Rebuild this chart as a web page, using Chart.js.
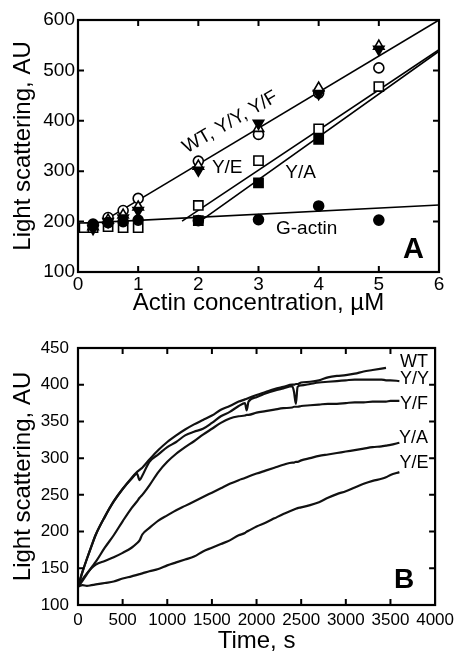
<!DOCTYPE html>
<html>
<head>
<meta charset="utf-8">
<script src="https://cdn.jsdelivr.net/npm/chart.js@4.4.0/dist/chart.umd.min.js"></script>
<style>
  html, body { margin: 0; padding: 0; background: #fff; }
  #wrap { position: relative; width: 461px; height: 655px; }
  canvas { position: absolute; left: 0; }
  #chartA { top: 0; }
  #chartB { top: 325px; }
</style>
</head>
<body>
<div id="wrap">
  <canvas id="chartA" width="461" height="325"></canvas>
  <canvas id="chartB" width="461" height="330"></canvas>
</div>
<script>
// ---- panel A: light scattering vs actin concentration ----
const actinConc = [0.25, 0.5, 0.75, 1, 2, 3, 4, 5];
const wtLS = [195, 208, 222, 246, 320, 373, 455, 505];
const yyLS = [190, 203, 213, 229, 310, 385, 465, 548];
const yfLS = [186, 200, 207, 222, 302, 395, 454, 542];
const gActinLS = [193, 198, 200, 203, 202, 204, 231, 203];
const yeConc = [0.1, 0.25, 0.5, 0.75, 1, 2, 3, 4, 5];
const yeLS = [188, 188, 190, 188, 188, 232, 321, 384, 468];
const yaConc = [2, 3, 4];
const yaLS = [202, 277, 363];

// fitted lines (end points)
const fitWTX = [0.42, 6], fitWTY = [201, 600];
const fitYEX = [1.73, 6], fitYEY = [201, 541];
const fitYAX = [2.02, 6], fitYAY = [200, 538];
const fitGX = [0.1, 6], fitGY = [197, 233];

// ---- panel B: time course ----
const timeS = [0, 50, 100, 150, 200, 300, 400, 500, 600, 660, 690, 720, 800, 900, 1000, 1100, 1200, 1300, 1400, 1500,
  1600, 1700, 1800, 1870, 1890, 1910, 2000, 2100, 2200, 2300, 2400, 2420, 2440, 2460, 2500, 2600, 2700, 2800, 2900,
  3000, 3100, 3200, 3300, 3400, 3450, 3500, 3600];
const wtTrace = [125, 145, 163, 180, 196, 220, 241, 258, 273, 281, 284, 287, 298, 311, 322, 331, 339, 346, 352, 358,
  366, 371, 377, 380, 381, 382, 386, 390, 394, 397, 400, 400, 401, 401, 403, 404, 406, 410, 412,
  413, 415, 418, 420, 422, 423, null, null];
const yyTrace = [125, 145, 163, 180, 196, 220, 241, 258, 272, 279, 270, 276, 295, 305, 315, 322, 331, 336, 340, 348,
  357, 363, 371, 375, 365, 377, 383, 388, 392, 395, 398, 390, 374, 397, 399, 401, 403, 404, 405,
  406, 407, 407, 407, 407, 406, 406, 405];
const yfTrace = [125, 133, 142, 151, 159, 178, 195, 214, 232, 241, 246, 250, 263, 281, 295, 306, 315, 323, 332, 340,
  348, 354, 357, 358, 359, 359, 362, 364, 366, 368, 369, 370, 370, 370, 371, 372, 373, 374, 374,
  375, 376, 376, 377, 377, 377, 378, 378];
const yaTrace = [125, 135, 143, 150, 155, 160, 165, 171, 178, 184, 188, 196, 205, 215, 222, 229, 235, 241, 247, 253,
  259, 265, 270, 273, 274, 275, 279, 283, 287, 291, 294, 294, 295, 295, 297, 300, 303, 305, 307,
  309, 311, 313, 315, 316, 317, 318, 321];
const yeTrace = [125, 127, 126, 127, 128, 130, 132, 136, 139, 141, 142, 143, 146, 149, 154, 158, 162, 166, 173, 178,
  183, 188, 195, 198, 200, 201, 207, 212, 218, 224, 229, 230, 231, 232, 233, 236, 240, 246, 251,
  255, 260, 265, 269, 272, 274, 277, 281];

const FONT = "'Liberation Sans', Arial, Helvetica, sans-serif";
Chart.defaults.font.family = FONT;
Chart.defaults.color = '#000';

function pts(xs, ys) {
  return xs.map((x, i) => ({ x: x, y: ys[i] }));
}

// box, inward ticks on four sides, and text labels
const framePlugin = {
  id: 'frame',
  afterDatasetsDraw(chart, args, opts) {
    const { ctx, chartArea: a } = chart;
    const xs = chart.scales.x, ys = chart.scales.y;
    const len = opts.tickLen;
    ctx.save();
    ctx.strokeStyle = '#000';
    ctx.lineWidth = 2;
    ctx.beginPath();
    xs.ticks.forEach(t => {
      const p = xs.getPixelForValue(t.value);
      if (p < a.left + 2 || p > a.right - 2) return;
      ctx.moveTo(p, a.bottom); ctx.lineTo(p, a.bottom - len);
      ctx.moveTo(p, a.top); ctx.lineTo(p, a.top + len);
    });
    ys.ticks.forEach(t => {
      const p = ys.getPixelForValue(t.value);
      if (p < a.top + 2 || p > a.bottom - 2) return;
      ctx.moveTo(a.left, p); ctx.lineTo(a.left + len, p);
      ctx.moveTo(a.right, p); ctx.lineTo(a.right - len, p);
    });
    ctx.stroke();
    ctx.lineWidth = 2.2;
    ctx.strokeRect(a.left, a.top, a.right - a.left, a.bottom - a.top);

    ctx.fillStyle = '#000';
    opts.labels.forEach(l => {
      ctx.save();
      ctx.translate(xs.getPixelForValue(l.x), ys.getPixelForValue(l.y));
      ctx.rotate((l.rot || 0) * Math.PI / 180);
      ctx.font = (l.bold ? 'bold ' : '') + l.size + 'px ' + FONT;
      ctx.textAlign = l.align || 'center';
      ctx.textBaseline = 'middle';
      ctx.fillText(l.text, 0, 0);
      ctx.restore();
    });
    ctx.restore();
  }
};

function marker(label, xs, ys, style, filled, r, rot) {
  return {
    label: label,
    data: pts(xs, ys),
    pointStyle: style,
    pointRotation: rot || 0,
    pointRadius: r,
    pointBackgroundColor: filled ? '#000' : '#fff',
    pointBorderColor: '#000',
    pointBorderWidth: 1.6,
    showLine: false
  };
}

function fitLine(label, xs, ys) {
  return {
    label: label,
    data: pts(xs, ys),
    showLine: true,
    borderColor: '#000',
    borderWidth: 1.6,
    pointRadius: 0
  };
}

new Chart(document.getElementById('chartA'), {
  type: 'scatter',
  data: {
    datasets: [
      marker('Y/A', yaConc, yaLS, 'rect', true, 6.5),
      marker('G-actin', actinConc, gActinLS, 'circle', true, 5),
      marker('Y/F', actinConc, yfLS, 'triangle', true, 6, 180),
      marker('Y/Y', actinConc, yyLS, 'triangle', false, 6),
      marker('Y/E', yeConc, yeLS, 'rect', false, 6.5),
      marker('WT', actinConc, wtLS, 'circle', false, 5),
      fitLine('fit WT', fitWTX, fitWTY),
      fitLine('fit Y/E', fitYEX, fitYEY),
      fitLine('fit Y/A', fitYAX, fitYAY),
      fitLine('fit G', fitGX, fitGY)
    ]
  },
  options: {
    responsive: false,
    animation: false,
    devicePixelRatio: 1,
    layout: { padding: { top: 20, right: 22, left: 0, bottom: 0 } },
    plugins: {
      legend: { display: false },
      tooltip: { enabled: false },
      frame: {
        tickLen: 6,
        labels: [
          { text: 'WT, Y/Y, Y/F', x: 2.53, y: 397, rot: -30, size: 19 },
          { text: 'Y/E', x: 2.48, y: 306, size: 19 },
          { text: 'Y/A', x: 3.7, y: 296, size: 19 },
          { text: 'G-actin', x: 3.8, y: 185, size: 19 },
          { text: 'A', x: 5.575, y: 143, size: 29, bold: true }
        ]
      }
    },
    scales: {
      x: {
        type: 'linear', min: 0, max: 6,
        grid: { display: false, drawTicks: false },
        border: { display: false },
        ticks: { stepSize: 1, padding: 3, maxRotation: 0, font: { size: 19, lineHeight: 1 } },
        title: { display: true, text: 'Actin concentration, \u00b5M', font: { size: 24, lineHeight: 1 }, padding: { top: 0, bottom: 10 } },
        afterFit: s => { s.height = 53; }
      },
      y: {
        type: 'linear', min: 100, max: 600,
        grid: { display: false, drawTicks: false },
        border: { display: false },
        ticks: { stepSize: 100, padding: 3, font: { size: 19, lineHeight: 1 } },
        title: { display: true, text: 'Light scattering, AU', font: { size: 24, lineHeight: 1 }, padding: { top: 11, bottom: 0 } },
        afterFit: s => { s.width = 78; }
      }
    }
  },
  plugins: [framePlugin]
});

function trace(label, ys) {
  return {
    label: label,
    data: pts(timeS, ys),
    borderColor: '#111',
    borderWidth: 2.2,
    pointRadius: 0,
    spanGaps: false,
    cubicInterpolationMode: 'monotone'
  };
}

new Chart(document.getElementById('chartB'), {
  type: 'line',
  data: {
    datasets: [
      trace('WT', wtTrace),
      trace('Y/Y', yyTrace),
      trace('Y/F', yfTrace),
      trace('Y/A', yaTrace),
      trace('Y/E', yeTrace)
    ]
  },
  options: {
    responsive: false,
    animation: false,
    devicePixelRatio: 1,
    layout: { padding: { top: 23, right: 20.5, left: 0, bottom: 0 } },
    plugins: {
      legend: { display: false },
      tooltip: { enabled: false },
      frame: {
        tickLen: 6,
        labels: [
          { text: 'WT', x: 3608, y: 431, size: 18, align: 'left' },
          { text: 'Y/Y', x: 3608, y: 408, size: 18, align: 'left' },
          { text: 'Y/F', x: 3608, y: 374, size: 18, align: 'left' },
          { text: 'Y/A', x: 3597, y: 327, size: 18, align: 'left' },
          { text: 'Y/E', x: 3600, y: 294, size: 18, align: 'left' },
          { text: 'B', x: 3652, y: 134, size: 28, bold: true }
        ]
      }
    },
    scales: {
      x: {
        type: 'linear', min: 0, max: 4000,
        grid: { display: false, drawTicks: false },
        border: { display: false },
        ticks: { stepSize: 500, padding: 7, autoSkip: false, maxRotation: 0, font: { size: 17, lineHeight: 1 },
          callback: v => String(v) },
        title: { display: true, text: 'Time, s', font: { size: 24, lineHeight: 1 }, padding: { top: 0, bottom: 2 } },
        afterFit: s => { s.height = 50; }
      },
      y: {
        type: 'linear', min: 100, max: 450,
        grid: { display: false, drawTicks: false },
        border: { display: false },
        ticks: { stepSize: 50, padding: 9, font: { size: 17, lineHeight: 1 } },
        title: { display: true, text: 'Light scattering, AU', font: { size: 24, lineHeight: 1 }, padding: { top: 11, bottom: 0 } },
        afterFit: s => { s.width = 78; }
      }
    }
  },
  plugins: [framePlugin]
});
</script>
</body>
</html>
